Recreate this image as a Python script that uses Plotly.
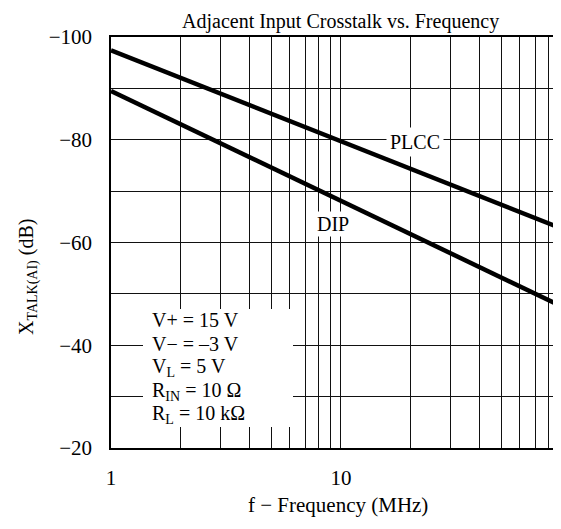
import plotly.graph_objects as go

# ---- data ----
freq_mhz = [1, 100]
plcc_db = [-97.4, -62.0]
dip_db = [-89.5, -46.7]

x_major_ticks = [1, 10]
x_major_labels = ["1", "10"]
x_minor_ticks = [2, 3, 4, 5, 6, 7, 8, 9, 20, 30, 40, 50, 60, 70, 80]
y_major_ticks = [-100, -80, -60, -40, -20]
y_major_labels = ["\u2212100", "\u221280", "\u221260", "\u221240", "\u221220"]
y_minor_ticks = [-90, -70, -50, -30]

conditions = [
    "V+ = 15 V",
    "V\u2212 = \u20133 V",
    "V<sub>L</sub> = 5 V",
    "R<sub>IN</sub> = 10 \u03a9",
    "R<sub>L</sub> = 10 k\u03a9",
]

# ---- layout geometry (screen pixels; page body has an 8px margin) ----
OFF = 8
SW, SH = 561, 529
PL, PT, PR, PB = 111, 37, 555, 448   # plot area on screen
W, H = SW - OFF, SH - OFF
L, T = PL - OFF, PT - OFF
R, B = W - (PR - OFF), H - (PB - OFF)
PW, PH = PR - PL, PB - PT
FONT = "Liberation Serif, Times New Roman, serif"


def px(x):
    return (x - PL) / PW


def py(y):
    return (PB - y) / PH


fig = go.Figure()
fig.add_trace(go.Scatter(x=freq_mhz, y=plcc_db, mode="lines",
                         line=dict(color="black", width=4.5), showlegend=False))
fig.add_trace(go.Scatter(x=freq_mhz, y=dip_db, mode="lines",
                         line=dict(color="black", width=4.5), showlegend=False))


def label(text, x, y, size=20, **kw):
    d = dict(text=text, xref="paper", yref="paper", x=px(x), y=py(y),
             xanchor="center", yanchor="middle", showarrow=False, font=dict(size=size))
    d.update(kw)
    return d


ann = [
    label("Adjacent Input Crosstalk vs. Frequency", 340, 21, size=20, borderpad=0),
    label("f \u2212 Frequency (MHz)", 338, 505, size=21),
    label("X<sub>TALK(AI)</sub> (dB)", 28, 277, size=20, textangle=-90),
    label("PLCC", 415, 142, bgcolor="white", borderpad=3),
    label("DIP", 333, 224, bgcolor="white", borderpad=1),
]
for i, line in enumerate(conditions):
    ann.append(label(line, 150, 320 + i * 23.7, xanchor="left"))

fig.update_layout(
    width=W, height=H,
    margin=dict(l=L, r=R, t=T, b=B, pad=0),
    paper_bgcolor="white", plot_bgcolor="white",
    font=dict(family=FONT, size=20, color="black"),
    annotations=ann,
    shapes=[dict(type="rect", xref="paper", yref="paper",
                 x0=px(143), x1=px(293), y0=py(427), y1=py(309),
                 fillcolor="white", line=dict(width=0), layer="above")],
)
fig.update_xaxes(
    type="log", range=[0, 1.9305],
    tickmode="array", tickvals=x_major_ticks, ticktext=x_major_labels,
    ticks="", ticklabelstandoff=10,
    tickfont=dict(size=21),
    showgrid=True, gridcolor="#111111", gridwidth=1.3,
    minor=dict(tickmode="array", tickvals=x_minor_ticks, showgrid=True,
               gridcolor="#111111", gridwidth=1.3, ticks=""),
    showline=True, linecolor="black", linewidth=1.6, mirror=True,
    zeroline=False,
)
fig.update_yaxes(
    range=[-20, -100],
    tickmode="array", tickvals=y_major_ticks, ticktext=y_major_labels,
    ticks="", ticklabelstandoff=13,
    tickfont=dict(size=21),
    showgrid=True, gridcolor="#111111", gridwidth=1.3,
    minor=dict(tickmode="array", tickvals=y_minor_ticks, showgrid=True,
               gridcolor="#111111", gridwidth=1.3, ticks=""),
    showline=True, linecolor="black", linewidth=1.6, mirror=False,
    zeroline=False,
)

fig.write_html("out.html")
